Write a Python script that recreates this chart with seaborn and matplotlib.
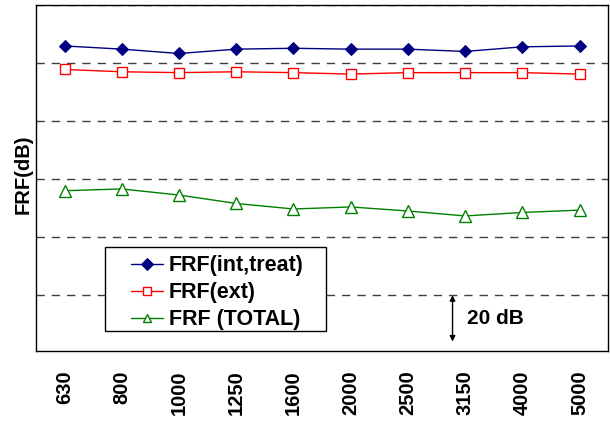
import numpy as np
import pandas as pd
import matplotlib
matplotlib.use("Agg")
import matplotlib.pyplot as plt
import seaborn as sns
from matplotlib.ticker import MultipleLocator, FixedLocator
from matplotlib.patches import Rectangle

# === DATA (dB on an arbitrary reference) ===
freqs = ["630", "800", "1000", "1250", "1600", "2000", "2500", "3150", "4000", "5000"]
frf_int_treat = [85.9, 84.8, 83.3, 84.8, 85.1, 84.8, 84.8, 84.0, 85.6, 85.9]
frf_ext = [77.8, 77.0, 76.7, 77.0, 76.7, 76.2, 76.7, 76.7, 76.7, 76.2]
frf_total = [36.0, 36.6, 34.5, 31.6, 29.7, 30.4, 29.0, 27.3, 28.5, 29.3]

series_names = ["FRF(int,treat)", "FRF(ext)", "FRF (TOTAL)"]

# === STYLE ===
sns.set_style("white")
plt.rcParams["font.family"] = ["Liberation Sans", "DejaVu Sans"]
plt.rcParams["text.color"] = "black"
plt.rcParams["axes.labelcolor"] = "black"
plt.rcParams["xtick.color"] = "black"

fig = plt.figure(figsize=(6.10, 4.21), dpi=100)
ax = fig.add_axes([0.059, 0.166, 0.938, 0.822])

pos = np.arange(len(freqs))

sns.lineplot(x=pos, y=frf_int_treat, ax=ax, color="#000080", lw=1.0,
             marker="D", markersize=6.5, markerfacecolor="#000080",
             markeredgecolor="#000080", label=series_names[0])
sns.lineplot(x=pos, y=frf_ext, ax=ax, color="#ff0000", lw=1.0,
             marker="s", markersize=7, markerfacecolor="white",
             markeredgecolor="#ff0000", markeredgewidth=1.0, label=series_names[1])
sns.lineplot(x=pos, y=frf_total, ax=ax, color="#008000", lw=1.0,
             marker="^", markersize=8, markerfacecolor="white",
             markeredgecolor="#008000", markeredgewidth=1.0, label=series_names[2])

# === AXES ===
ax.set_xlim(-0.5, len(freqs) - 0.5)
ax.set_ylim(-19.3, 100)

ax.yaxis.set_major_locator(MultipleLocator(20))
ax.grid(axis="y", color="#404040", linestyle=(0, (6, 5)), lw=1.0)
ax.tick_params(axis="y", left=False, labelleft=False)

ax.xaxis.set_major_locator(FixedLocator(pos))
ax.set_xticklabels(freqs, rotation=90, fontsize=14.5, fontweight="bold", color="black")
ax.tick_params(axis="x", which="major", length=0, pad=14)
ax.xaxis.set_minor_locator(FixedLocator(pos[:-1] + 0.5))
ax.tick_params(axis="x", which="minor", direction="in", length=4, width=1, color="black")

for s in ax.spines.values():
    s.set_color("black")
    s.set_linewidth(1.0)

ax.set_ylabel("FRF(dB)", fontsize=14.5, fontweight="bold", color="black")
ax.yaxis.set_label_coords(-0.006, 0.51)

# === 20 dB scale arrow ===
ax.annotate("", xy=(6.78, -16.0), xytext=(6.78, 0.0),
            arrowprops=dict(arrowstyle="<|-|>", color="black", lw=1.0,
                            mutation_scale=8, shrinkA=0, shrinkB=0))
ax.text(7.04, -8.0, "20 dB", fontsize=15, fontweight="bold", va="center", ha="left",
        color="black")

# === LEGEND (box drawn separately: the original has a wide left margin) ===
ax.add_patch(Rectangle((0.121, 0.058), 0.385, 0.243, transform=ax.transAxes,
                       facecolor="white", edgecolor="black", lw=1.0, zorder=4))
leg = ax.legend(loc="center left", bbox_to_anchor=(0.166, 0.169),
                prop={"weight": "bold", "size": 15.5}, frameon=False,
                borderpad=0, labelspacing=0.28, handlelength=1.5,
                handletextpad=0.25, borderaxespad=0)
leg.set_zorder(5)
for h in leg.legend_handles:
    h.set_markersize(6)
for t in leg.get_texts():
    t.set_color("black")

fig.savefig("out.png", dpi=100)
